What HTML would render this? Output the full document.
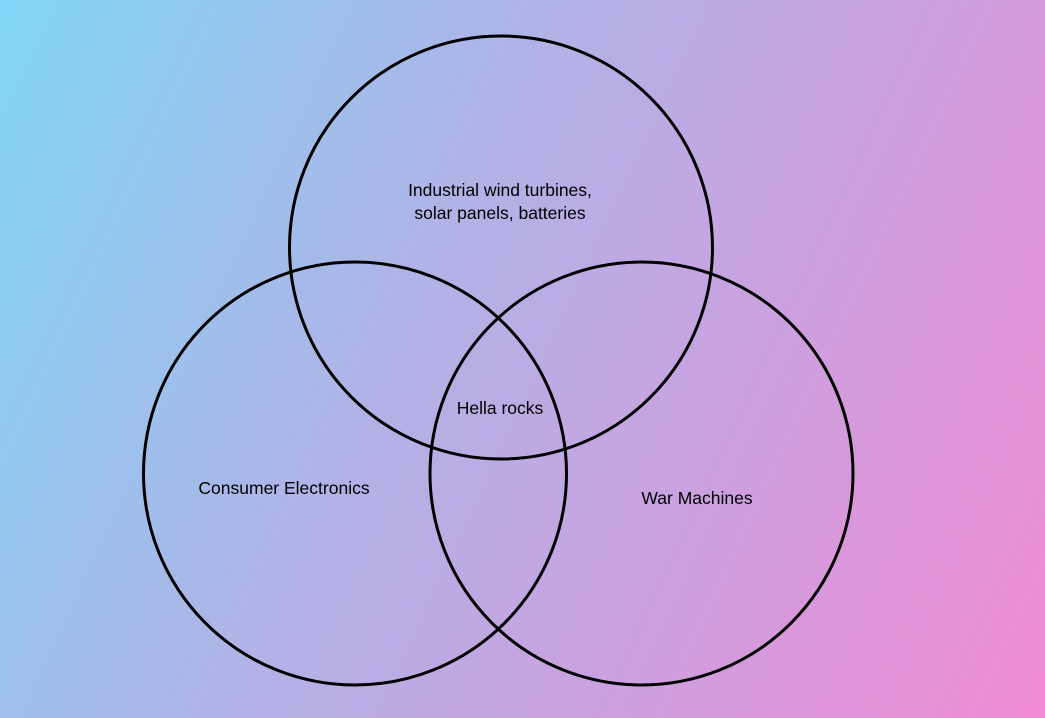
<!DOCTYPE html>
<html><head><meta charset="utf-8"><style>
html,body{margin:0;padding:0;}
body{width:1045px;height:718px;overflow:hidden;background:linear-gradient(115deg,#80d5f5 0%,#b0b3e6 40%,#c9a2e0 65%,#f08ad4 100%);}
svg{position:absolute;left:0;top:0;}
text{font-family:"Liberation Sans",sans-serif;font-size:17.5px;fill:#000;text-anchor:middle;}
</style></head><body>
<svg width="1045" height="718">
<g fill="none" stroke="#000" stroke-width="3">
<circle cx="501" cy="247.5" r="211.5"/>
<circle cx="355" cy="473.5" r="211.5"/>
<circle cx="641.5" cy="473.5" r="211.5"/>
</g>
<text x="500" y="196">Industrial wind turbines,</text>
<text x="500" y="219">solar panels, batteries</text>
<text x="500" y="414">Hella rocks</text>
<text x="284" y="494">Consumer Electronics</text>
<text x="697" y="504">War Machines</text>
</svg>
</body></html>
